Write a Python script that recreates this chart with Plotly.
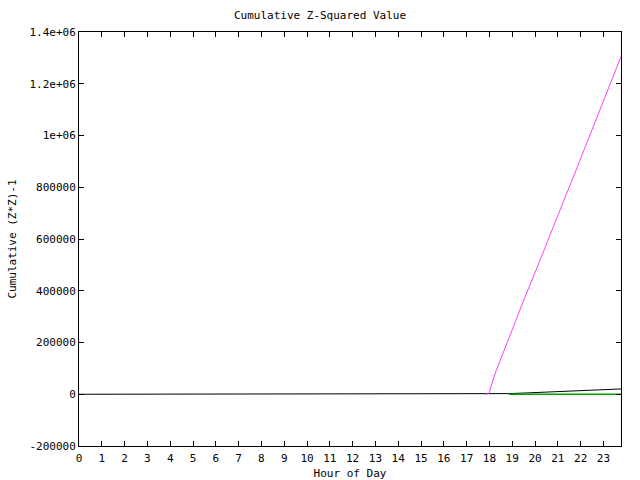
import plotly.graph_objects as go

# Magenta series
mag_x = [17.8, 17.95, 18.0, 18.1, 18.3, 18.6, 19.0, 19.2, 19.6, 20.0, 20.4, 20.8,
         21.2, 21.6, 22.0, 22.4, 22.8, 23.2, 23.77]
mag_y = [0, 2000, 8000, 40000, 92000, 160000, 250000, 300000, 385000, 470000,
         560000, 645000, 735000, 822000, 910000, 998000, 1085000, 1175000, 1305000]

# Black series
blk_x = [0, 18.85, 18.87, 19.6, 20.6, 21.6, 22.6, 23.77]
blk_y = [0, 0, 2500, 5000, 9000, 12500, 16000, 20500]

# Green series
grn_x = [18.86, 19.6, 20.6, 21.6, 22.6, 23.77]
grn_y = [0, 0, 0, 0, 0, 0]

x_ticks = list(range(0, 24))
x_labels = [str(v) for v in x_ticks]
y_ticks = [-200000, 0, 200000, 400000, 600000, 800000, 1000000, 1200000, 1400000]
y_labels = ["-200000", "0", "200000", "400000", "600000", "800000", "1e+06", "1.2e+06", "1.4e+06"]

FONT = "DejaVu Sans Mono"

fig = go.Figure()
fig.add_trace(go.Scatter(x=blk_x, y=blk_y, mode="lines",
                         line=dict(color="#000000", width=1), showlegend=False))
fig.add_trace(go.Scatter(x=grn_x, y=grn_y, mode="lines",
                         line=dict(color="#00a000", width=1.3), showlegend=False))
fig.add_trace(go.Scatter(x=mag_x, y=mag_y, mode="lines",
                         line=dict(color="#ff40ff", width=1), showlegend=False))

fig.update_layout(
    width=640, height=480,
    margin=dict(l=79, r=19, t=32, b=34, autoexpand=False),
    paper_bgcolor="white", plot_bgcolor="white",
    font=dict(family=FONT, size=11, color="black"),
    title=dict(text="Cumulative Z-Squared Value", x=0.5, xanchor="center",
               y=1 - 15 / 480, yanchor="middle", font=dict(family=FONT, size=11)),
    xaxis=dict(range=[0, 23.77], tickvals=x_ticks, ticktext=x_labels,
               showgrid=False, zeroline=False, showline=True, linecolor="black",
               linewidth=1, mirror="ticks", ticks="inside", ticklen=5,
               tickcolor="black", automargin=False, ticklabelstandoff=2,
               title=dict(text="Hour of Day", standoff=6, font=dict(family=FONT, size=11))),
    yaxis=dict(range=[-200000, 1400000], tickvals=y_ticks, ticktext=y_labels,
               showgrid=False, zeroline=False, showline=True, linecolor="black",
               linewidth=1, mirror="ticks", ticks="inside", ticklen=5,
               tickcolor="black", automargin=False,
               title=dict(text="Cumulative (Z*Z)-1", standoff=10, font=dict(family=FONT, size=11))),
)

fig.write_html("out.html")
